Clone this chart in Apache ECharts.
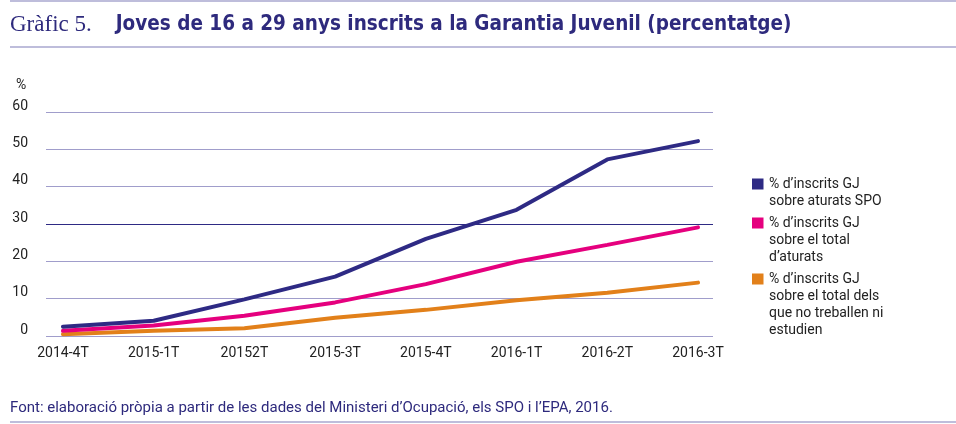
<!DOCTYPE html>
<html>
<head>
<meta charset="utf-8">
<script src="https://cdn.jsdelivr.net/npm/echarts@6/dist/echarts.min.js"></script>
<style>
html,body{margin:0;padding:0;background:#fff;}
#chart{width:956px;height:424px;}
</style>
</head>
<body>
<div id="chart"></div>
<script>
// data
var quarters=['2014-4T','2015-1T','20152T','2015-3T','2015-4T','2016-1T','2016-2T','2016-3T'];
var aturatsSPO=[2.5,4.1,9.8,15.9,26.0,33.8,47.3,52.2];
var totalAturats=[1.4,2.8,5.4,9.0,13.9,19.9,24.4,29.1];
var noTreballen=[0.5,1.4,2.1,4.9,7.0,9.6,11.6,14.3];
var yTicks=[0,10,20,30,40,50,60];

var seriesNames=['aturatsSPO','totalAturats','noTreballen'];
var legendTexts=[
    '% d’inscrits GJ\nsobre aturats SPO',
    '% d’inscrits GJ\nsobre el total\nd’aturats',
    '% d’inscrits GJ\nsobre el total dels\nque no treballen ni\nestudien'
];
var colors=['#2e2a84','#e5007e','#e2801a'];
var navy='#2e2a7d';
var rule='#a9a7cf';
var lineH=17;

function pairs(arr){ return arr.map(function(v,i){return [i,v];}); }

var myChart=echarts.init(document.getElementById('chart'));

// one legend per item so that the square sits on the first text line
var legends=[175.5,214.5,270.5].map(function(top,i){
    var lines=legendTexts[i].split('\n').length;
    var h=lines*lineH;
    return {
        data:[seriesNames[i]],
        orient:'vertical',
        left:752, top:top, padding:0,
        itemWidth:12, itemHeight:h,
        icon:'path://M0,0L12,0L12,0Z M0,3L11.5,3L11.5,14L0,14Z M0,'+h+'L12,'+h+'L12,'+h+'Z',
        itemStyle:{borderWidth:0},
        selectedMode:false,
        formatter:function(){return legendTexts[i];},
        textStyle:{fontFamily:'Roboto',fontSize:14,lineHeight:lineH,color:'#222'}
    };
});

var splitColors=yTicks.map(function(v){return v===30?'#2e2a84':'#a09dcb';});

var option={
    animation:false,
    title:[{
        left:10, top:10, padding:0,
        text:'{a|Gràfic 5.}{b|Joves de 16 a 29 anys inscrits a la Garantia Juvenil (percentatge)}',
        textStyle:{
            rich:{
                a:{fontFamily:'Liberation Serif',fontWeight:'normal',fontSize:23,color:navy,lineHeight:30},
                b:{fontFamily:'Liberation Sans Narrow, DejaVu Sans Condensed, sans-serif',fontWeight:'bold',fontSize:20.5,color:navy,lineHeight:30,padding:[0,0,0,24]}
            }
        }
    },{
        left:10, top:399, padding:0,
        text:'Font: elaboració pròpia a partir de les dades del Ministeri d’Ocupació, els SPO i l’EPA, 2016.',
        textStyle:{fontFamily:'Roboto',fontSize:15,fontWeight:'normal',color:navy,lineHeight:18}
    },{
        // unit of the value axis
        left:16, top:77, padding:0,
        text:'%',
        textStyle:{fontFamily:'Roboto',fontSize:14,fontWeight:'normal',color:'#222',lineHeight:16}
    }],
    graphic:[
        {type:'line',shape:{x1:10,y1:1,x2:956,y2:1},style:{stroke:rule,lineWidth:1.5}},
        {type:'line',shape:{x1:10,y1:47,x2:956,y2:47},style:{stroke:rule,lineWidth:1.5}},
        {type:'line',shape:{x1:10,y1:422,x2:956,y2:422},style:{stroke:rule,lineWidth:1.5}}
    ],
    legend:legends,
    grid:{left:46,right:243,top:112,height:224,containLabel:false},
    xAxis:{
        type:'value',
        min:-0.187, max:7.165,
        axisLine:{show:false},
        axisTick:{show:false},
        splitLine:{show:false},
        axisLabel:{
            customValues:quarters.map(function(q,i){return i;}),
            formatter:function(v){return quarters[Math.round(v)];},
            margin:10,
            fontFamily:'Roboto',fontSize:14,color:'#222'
        }
    },
    yAxis:{
        type:'value',
        min:0, max:60, interval:10,
        axisLine:{show:false},
        axisTick:{show:false},
        axisLabel:{margin:18,fontFamily:'Roboto',fontSize:14,color:'#222',verticalAlign:'bottom',padding:[0,0,-1,0]},
        splitLine:{show:true,lineStyle:{color:splitColors,width:1.2}}
    },
    series:[
        {name:seriesNames[2],type:'line',data:pairs(noTreballen),showSymbol:false,color:colors[2],lineStyle:{width:4,color:colors[2],cap:'round'},z:2},
        {name:seriesNames[1],type:'line',data:pairs(totalAturats),showSymbol:false,color:colors[1],lineStyle:{width:4,color:colors[1],cap:'round'},z:3},
        {name:seriesNames[0],type:'line',data:pairs(aturatsSPO),showSymbol:false,color:colors[0],lineStyle:{width:4,color:colors[0],cap:'round'},z:4}
    ]
};
myChart.setOption(option);
</script>
</body>
</html>
